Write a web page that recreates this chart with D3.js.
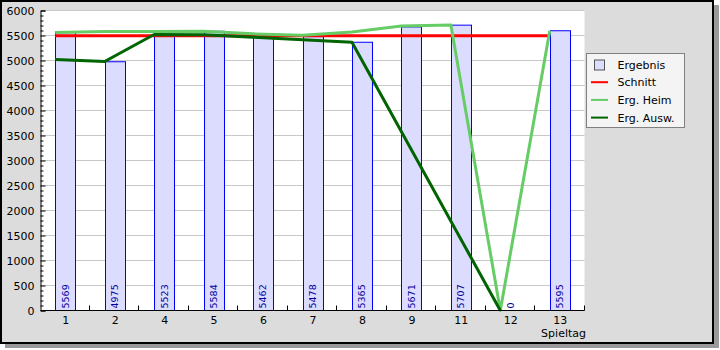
<!DOCTYPE html>
<html><head><meta charset="utf-8">
<script src="https://cdn.jsdelivr.net/npm/d3@7"></script>
<style>
html,body{margin:0;padding:0;background:#fff;}
svg{display:block;font-family:"DejaVu Sans",sans-serif;}
</style></head>
<body>
<svg id="chart" width="720" height="350"></svg>
<script>
const categories = ["1","2","4","5","6","7","8","9","11","12","13"];
const ergebnis = [5569,4975,5523,5584,5462,5478,5365,5671,5707,0,5595];
const schnitt  = [5493,5493,5493,5493,5493,5493,5493,5493,5493,5493,5493];
const heim     = [5562,5582,5582,5583,5533,5503,5572,5690,5710,0,5595];
const ausw     = [5022,4980,5520,5513,5467,5417,5363,null,null,0,null];
const yTicks   = [0,500,1000,1500,2000,2500,3000,3500,4000,4500,5000,5500,6000];
const legendItems = ["Ergebnis","Schnitt","Erg. Heim","Erg. Ausw."];
const xTitle = "Spieltag";

const svg = d3.select("#chart");
// frame + shadow
svg.append("rect").attr("x",5).attr("y",5).attr("width",714).attr("height",343).attr("fill","#9a9a9a");
svg.append("rect").attr("x",1).attr("y",1).attr("width",712).attr("height",342)
  .attr("fill","#dcdcdc").attr("stroke","#000").attr("stroke-width",2);

const L=40.5, R=584.5, T=10.5, B=310.5;
svg.append("rect").attr("x",L).attr("y",T).attr("width",R-L).attr("height",B-T).attr("fill","#fff");

const x = d3.scaleBand().domain(categories).range([L,R]).padding(0);
const y = d3.scaleLinear().domain([0,6000]).range([B,T]);
const barW = 20;
const barLeft = c => x(c) + x.bandwidth()/2 - barW/2;

// grid
svg.append("g").selectAll("line").data(yTicks.filter(v=>v>0)).join("line")
  .attr("x1",L).attr("x2",R).attr("y1",d=>y(d)).attr("y2",d=>y(d))
  .attr("stroke","#c8c8c8").attr("stroke-width",1);

// bars
svg.append("g").selectAll("rect").data(categories).join("rect")
  .attr("x",(c)=>Math.round(barLeft(c))+0.5)
  .attr("y",(c,i)=>y(ergebnis[i]))
  .attr("width",barW)
  .attr("height",(c,i)=>B-y(ergebnis[i]))
  .attr("fill","#dcdcff").attr("stroke","#0000ff").attr("stroke-width",1)
  .attr("display",(c,i)=>ergebnis[i]>0?null:"none");

// lines
function drawLine(vals,color){
  const pts = categories.map((c,i)=>[barLeft(c), vals[i]]).filter(p=>p[1]!==null);
  const line = d3.line().x(p=>p[0]).y(p=>y(p[1]));
  svg.append("path").datum(pts).attr("d",line).attr("fill","none")
    .attr("stroke",color).attr("stroke-width",3).attr("stroke-linejoin","round");
}
drawLine(schnitt,"#ff0000");
drawLine(heim,"#66cc66");
drawLine(ausw,"#006400");

// bar value labels
svg.append("g").selectAll("text").data(categories).join("text")
  .attr("transform",(c)=>`translate(${x(c)+x.bandwidth()/2},308.5) rotate(-90)`)
  .attr("dy","0.36em").attr("text-anchor","start")
  .attr("font-size","9.5px").attr("fill","#00009a")
  .text((c,i)=>ergebnis[i]);

// y axis
const yAxis = d3.axisLeft(y).tickValues(yTicks).tickSize(-5).tickPadding(6).tickFormat(d3.format("d"));
const ga = svg.append("g").attr("transform",`translate(${L},0)`).call(yAxis);
ga.select(".domain").attr("stroke","#000");
ga.selectAll("text").attr("font-size","11px").attr("fill","#000").attr("font-family","DejaVu Sans");
const minor = d3.range(0,6001,100).filter(v=>v%500!==0);
const gm = svg.append("g").attr("transform",`translate(${L},0)`)
  .call(d3.axisLeft(y).tickValues(minor).tickSize(-3).tickFormat(""));
gm.select(".domain").remove();

// x axis
svg.append("line").attr("x1",L).attr("x2",R).attr("y1",B).attr("y2",B).attr("stroke","#000");
const bounds = categories.map(c=>x(c)+x.bandwidth()).map(v=>Math.round(v)-0.5);
svg.append("g").selectAll("line").data(bounds).join("line")
  .attr("x1",d=>d).attr("x2",d=>d).attr("y1",B).attr("y2",B-5).attr("stroke","#000");
svg.append("g").selectAll("text").data(categories).join("text")
  .attr("x",c=>x(c)+x.bandwidth()/2+0.5).attr("y",323.5)
  .attr("text-anchor","middle").attr("font-size","11px").text(c=>c);
svg.append("text").attr("x",586).attr("y",337).attr("text-anchor","end")
  .attr("font-size","11px").text(xTitle);

// legend
const lg = svg.append("g");
lg.append("rect").attr("x",586.5).attr("y",53.5).attr("width",98).attr("height",74)
  .attr("fill","#f4f4f4").attr("stroke","#808080");
const lcolors = [null,"#ff0000","#66cc66","#006400"];
legendItems.forEach((t,i)=>{
  const by = 68.5 + i*17.7;
  if(i===0){
    lg.append("rect").attr("x",594.5).attr("y",by-8.5).attr("width",10).attr("height",10)
      .attr("fill","#dcdcff").attr("stroke","#555");
  } else {
    lg.append("line").attr("x1",591).attr("x2",608).attr("y1",by-4).attr("y2",by-4)
      .attr("stroke",lcolors[i]).attr("stroke-width",2);
  }
  lg.append("text").attr("x",617.5).attr("y",by).attr("font-size","11px").text(t);
});
</script>
</body></html>
